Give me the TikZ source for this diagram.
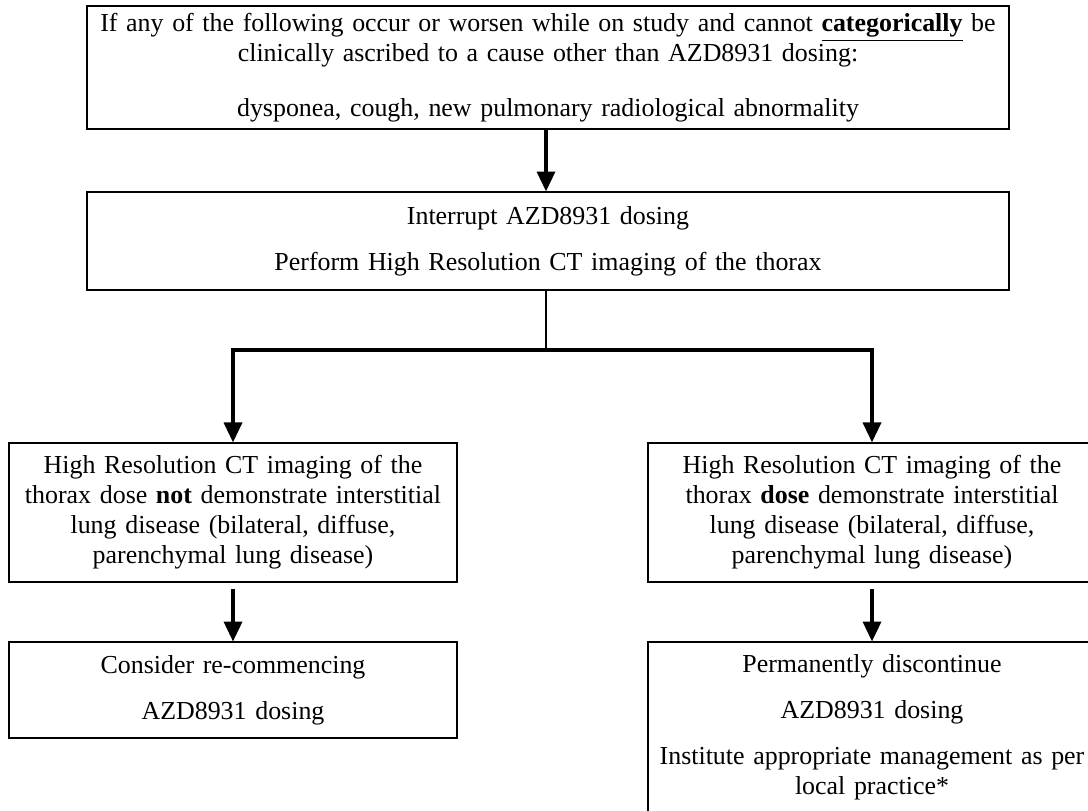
\documentclass[tikz,border=0pt]{standalone}
\usepackage{fontspec}
\setmainfont{Liberation Serif}
\usetikzlibrary{positioning}
\usetikzlibrary{arrows.meta}

\begin{document}
\begin{tikzpicture}[x=0.463pt, y=-0.463pt,
    box/.style={draw, line width=0.55pt, align=center, inner sep=0pt,
        font=\fontsize{12}{13.9}\selectfont},
    flow/.style={line width=1.4pt, -{Triangle[width=8.4pt, length=9.2pt]}},
    stem/.style={line width=0.5pt}]

    % page size, the right side of the picture is cut off
    \useasboundingbox (0,0) rectangle (1088,810);
    \clip (0,0) rectangle (1088,810);

    % box at the top with the symptoms
    \node[box, minimum width=426.9pt, minimum height=56.9pt, text width=420pt,
        font=\fontsize{12}{11.6}\selectfont] (warn) at (548,67.5)
        {If any of the following occur or worsen while on study and cannot \underline{\textbf{categorically}} be\\
         clinically ascribed to a cause other than AZD8931 dosing:\\[13.6pt]
         dysponea, cough, new pulmonary radiological abnormality};

    % interrupt dosing
    \node[box, minimum width=426.9pt, minimum height=45.4pt, text width=420pt] (halt) at (548,241)
        {Interrupt AZD8931 dosing\\[7.4pt]
         Perform High Resolution CT imaging of the thorax};

    % split below the second box
    \coordinate (split) at (546,350);
    \draw[flow] (split |- warn.south) -- (split |- halt.north); % arrow down to the second box

    % left: no lung disease
    \node[box, minimum width=207.4pt, minimum height=64.4pt, text width=200pt] (noild) at (233,512.5)
        {High Resolution CT imaging of the\\
         thorax dose \textbf{not} demonstrate interstitial\\
         lung disease (bilateral, diffuse,\\
         parenchymal lung disease)};

    % right: lung disease
    \node[box, minimum width=207.4pt, minimum height=64.4pt, text width=200pt] (ild) at (872,512.5)
        {High Resolution CT imaging of the\\
         thorax \textbf{dose} demonstrate interstitial\\
         lung disease (bilateral, diffuse,\\
         parenchymal lung disease)};

    \draw[stem] (split |- halt.south) -- (split);
    \draw[flow] (split) -| (noild.north);
    \draw[flow] (split) -| (ild.north);

    % bottom left
    \node[box, minimum width=207.4pt, minimum height=44.4pt, text width=200pt] (restart) at (233,690)
        {Consider re-commencing\\[7.4pt]
         AZD8931 dosing};
    \draw[flow] ([yshift=-2.8pt]noild.south) -- (restart.north);

    % bottom right
    \node[box, minimum width=207.4pt, minimum height=78.7pt, text width=200pt] (stop) at (872,727)
        {Permanently discontinue\\[7.4pt]
         AZD8931 dosing\\[7.4pt]
         Institute appropriate management as per\\
         local practice*};
    \draw[flow] ([yshift=-2.8pt]ild.south) -- (stop.north);

\end{tikzpicture}
\end{document}
